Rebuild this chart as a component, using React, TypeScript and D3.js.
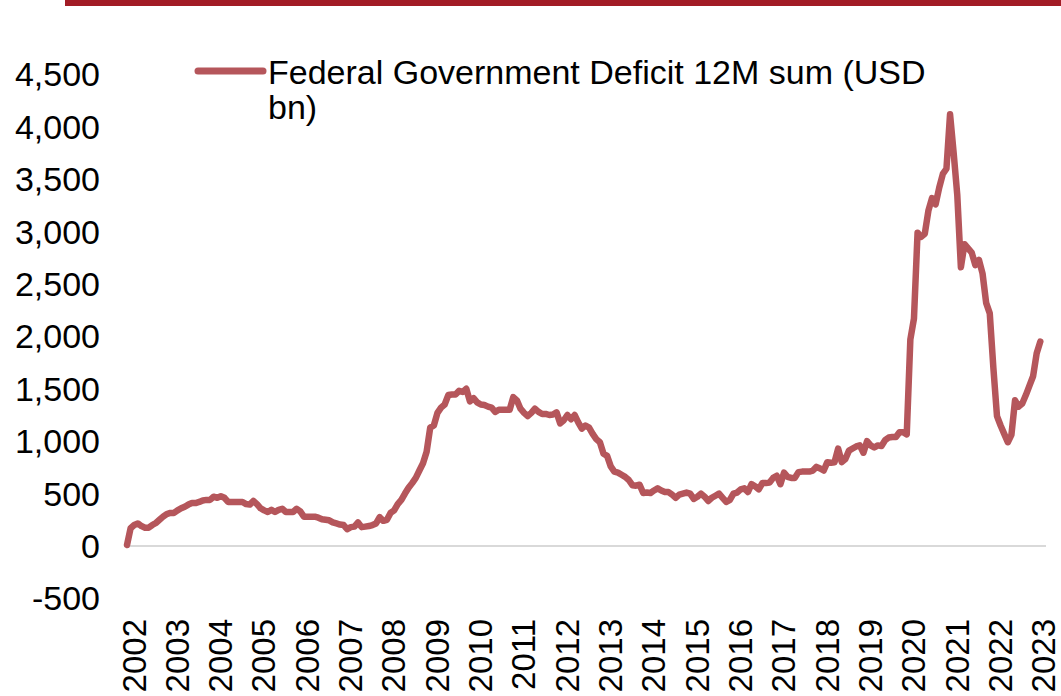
import React from "react";
import * as d3 from "d3";

const y2002 = [10, 170, 200, 215, 190, 175, 175, 200, 220, 250, 280, 305];
const y2003 = [315, 315, 340, 360, 375, 395, 410, 410, 420, 435, 440, 440];
const y2004 = [470, 460, 475, 460, 420, 420, 420, 420, 420, 400, 395, 430];
const y2005 = [400, 360, 340, 325, 345, 325, 345, 355, 325, 325, 325, 355];
const y2006 = [330, 280, 280, 280, 280, 270, 255, 250, 245, 225, 215, 205];
const y2007 = [200, 160, 180, 185, 225, 180, 185, 190, 200, 215, 275, 240];
const y2008 = [250, 315, 340, 400, 440, 500, 555, 600, 650, 720, 790, 900];
const y2009 = [1130, 1150, 1270, 1320, 1350, 1440, 1445, 1445, 1480, 1470, 1500, 1380];
const y2010 = [1410, 1370, 1350, 1345, 1330, 1320, 1280, 1300, 1300, 1300, 1300, 1420];
const y2011 = [1390, 1310, 1270, 1240, 1270, 1310, 1280, 1260, 1260, 1250, 1255, 1275];
const y2012 = [1170, 1200, 1250, 1210, 1250, 1180, 1120, 1150, 1130, 1070, 1020, 990];
const y2013 = [880, 860, 760, 710, 700, 680, 660, 630, 580, 575, 585, 505];
const y2014 = [510, 505, 530, 550, 530, 515, 515, 490, 460, 490, 500, 510];
const y2015 = [500, 450, 470, 500, 470, 430, 460, 480, 500, 460, 420, 440];
const y2016 = [500, 510, 540, 550, 515, 590, 570, 540, 600, 600, 605, 650];
const y2017 = [670, 590, 700, 660, 650, 650, 705, 710, 710, 710, 720, 755];
const y2018 = [740, 720, 800, 795, 800, 930, 800, 830, 910, 930, 950, 960];
const y2019 = [890, 1000, 960, 940, 960, 955, 1010, 1035, 1040, 1040, 1085, 1085];
const y2020 = [1065, 1970, 2170, 2990, 2950, 2980, 3200, 3320, 3260, 3420, 3550, 3600];
const y2021 = [4120, 3750, 3350, 2660, 2880, 2840, 2800, 2680, 2730, 2600, 2320, 2220];
const y2022 = [1700, 1240, 1150, 1070, 990, 1060, 1390, 1330, 1360, 1440, 1530, 1620];
const y2023 = [1840, 1950];

const deficit: number[] = [
  ...y2002, ...y2003, ...y2004, ...y2005, ...y2006, ...y2007, ...y2008,
  ...y2009, ...y2010, ...y2011, ...y2012, ...y2013, ...y2014, ...y2015,
  ...y2016, ...y2017, ...y2018, ...y2019, ...y2020, ...y2021, ...y2022, ...y2023,
];

const yearLabels = [
  "2002", "2003", "2004", "2005", "2006", "2007", "2008", "2009", "2010", "2011",
  "2012", "2013", "2014", "2015", "2016", "2017", "2018", "2019", "2020", "2021",
  "2022", "2023",
];

const yTicks = [-500, 0, 500, 1000, 1500, 2000, 2500, 3000, 3500, 4000, 4500];

const seriesName = ["Federal Government Deficit 12M sum (USD", "bn)"];

const W = 1061;
const H = 696;
const LINE_COLOR = "#B5565B";
const FONT = "'Liberation Sans', Arial, sans-serif";

export default function App() {
  const x = d3.scaleLinear().domain([0, 253]).range([127, 1040.3]);
  const y = d3.scaleLinear().domain([-500, 4500]).range([598.4, 74.4]);
  const fmt = (v: number) => d3.format(",")(v).replace("\u2212", "-");
  const line = d3
    .line<number>()
    .x((_, i) => x(i))
    .y((d) => y(d));

  return (
    <div style={{ position: "fixed", left: 0, top: 0, background: "#fff" }}>
      <svg width={W} height={H} style={{ display: "block" }}>
        <rect x={65} y={0} width={W - 65} height={6} fill="#A21C26" />

        {/* zero line */}
        <line x1={x(0)} x2={1046} y1={y(0)} y2={y(0)} stroke="#D9D9D9" strokeWidth={2} />

        {/* y ticks */}
        {yTicks.map((t) => (
          <text
            key={t}
            x={100}
            y={y(t)}
            textAnchor="end"
            dominantBaseline="central"
            fontFamily={FONT}
            fontSize={34}
            fill="#000"
          >
            {fmt(t)}
          </text>
        ))}

        {/* x labels */}
        {yearLabels.map((lab, k) => (
          <text
            key={lab}
            transform={`translate(${x(k * 12) + 7},${619}) rotate(-90)`}
            textAnchor="end"
            dominantBaseline="central"
            fontFamily={FONT}
            fontSize={33}
            fill="#000"
          >
            {lab}
          </text>
        ))}

        {/* series */}
        <path
          d={line(deficit) || ""}
          fill="none"
          stroke={LINE_COLOR}
          strokeWidth={6.5}
          strokeLinejoin="round"
          strokeLinecap="round"
        />

        {/* legend */}
        <line x1={198} x2={263} y1={71} y2={71} stroke={LINE_COLOR} strokeWidth={7} strokeLinecap="round" />
        <text x={268} y={84} fontFamily={FONT} fontSize={34} fill="#000">
          {seriesName[0]}
        </text>
        <text x={268} y={119} fontFamily={FONT} fontSize={34} fill="#000">
          {seriesName[1]}
        </text>
      </svg>
    </div>
  );
}
